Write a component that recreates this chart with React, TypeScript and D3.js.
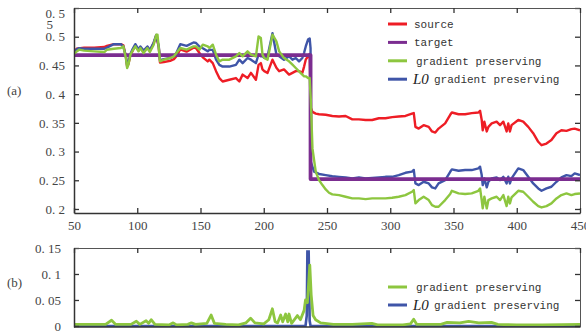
import React, { useEffect, useRef } from 'react';
import * as d3 from 'd3';

// top panel (a): [x, value]
const sourceData: [number, number][] = [
  [50, 0.47], [52, 0.479], [58, 0.481], [66, 0.481], [74, 0.482], [76, 0.484], [81.5, 0.487], [87, 0.487],
  [89, 0.485], [91, 0.466], [92, 0.448], [93, 0.452], [94.6, 0.468], [96, 0.474], [98.5, 0.485], [101, 0.476],
  [102.5, 0.481], [105, 0.474], [108, 0.482], [110, 0.475], [113, 0.489], [115, 0.502], [117, 0.482], [118, 0.455],
  [121, 0.456], [126, 0.458], [129, 0.461], [131, 0.466], [134, 0.478], [139, 0.474], [144.5, 0.481],
  [146.5, 0.48], [149.2, 0.4716], [151.8, 0.464], [155.7, 0.457], [157, 0.46], [159.7, 0.454], [162.3, 0.44],
  [164.9, 0.428], [167.5, 0.422], [172.8, 0.425], [178, 0.428], [180.7, 0.422], [183.3, 0.434], [187.2, 0.428],
  [189.9, 0.437], [193.8, 0.425], [195.9, 0.451], [197.7, 0.454], [199, 0.443], [200.4, 0.44], [203, 0.437],
  [206.9, 0.46], [210, 0.446], [212.2, 0.44], [216, 0.443], [220, 0.434], [222.7, 0.437], [225.3, 0.44],
  [227.9, 0.44], [230.5, 0.437], [231.9, 0.448], [233.2, 0.46], [235, 0.466], [236.3, 0.47],
  [237.2, 0.376], [238.5, 0.369], [241.1, 0.366], [243.7, 0.365], [249, 0.364], [254.2, 0.362], [259.5, 0.361],
  [264.7, 0.362], [270, 0.356], [275.2, 0.356], [280.5, 0.355], [285.7, 0.355], [291, 0.358], [296.2, 0.358],
  [301.5, 0.36], [306.7, 0.361], [312, 0.362], [317.2, 0.366], [318.6, 0.367], [319.9, 0.343], [322.5, 0.34],
  [326.4, 0.346], [330.4, 0.343], [333, 0.335], [335.6, 0.333], [338.2, 0.34], [343.4, 0.349], [347.4, 0.364],
  [348.7, 0.368], [354, 0.365], [359.2, 0.365], [364.4, 0.367], [369.7, 0.368], [371, 0.371], [372.3, 0.355],
  [373.1, 0.337], [374.4, 0.352], [376.3, 0.335], [377.6, 0.343], [380.2, 0.349], [384.1, 0.352], [386.8, 0.346],
  [389.4, 0.352], [392, 0.335], [393.3, 0.349], [394.6, 0.335], [395.9, 0.346], [401.2, 0.355], [405.1, 0.352],
  [409.1, 0.343], [413, 0.332], [417, 0.317], [419.6, 0.311], [423.5, 0.314], [427.4, 0.32], [431.4, 0.332],
  [435.3, 0.337], [439.3, 0.336], [443.2, 0.339], [445.8, 0.34], [450, 0.337],
];

const targetData: [number, number][] = [
  [50, 0.468], [237, 0.468], [237, 0.252], [450, 0.252],
];

const gradData: [number, number][] = [
  [50, 0.47], [52, 0.474], [54, 0.4774], [58, 0.4757], [66, 0.4745], [74, 0.4733], [76, 0.4774], [81.5, 0.4791],
  [87, 0.4803], [89, 0.4832], [91, 0.4629], [92, 0.4455], [93, 0.4513], [94.6, 0.4687], [96, 0.4745], [98.5, 0.4832],
  [101, 0.4745], [102.5, 0.4803], [105, 0.4716], [108, 0.4803], [110, 0.4733], [113, 0.4861], [115, 0.5035],
  [116, 0.5035], [117, 0.4803], [118, 0.4571], [121, 0.46], [126, 0.4629], [129, 0.4658], [131, 0.4716],
  [134, 0.4803], [139, 0.4774], [144.5, 0.4832], [146.5, 0.4832], [149.2, 0.4774], [151.8, 0.4861],
  [155.7, 0.4832], [157, 0.4803], [159.7, 0.4861], [162.3, 0.4687], [164.9, 0.4571], [167.5, 0.46], [172.8, 0.46],
  [178, 0.4658], [180.7, 0.4716], [183.3, 0.4658], [187.2, 0.4745], [189.9, 0.4687], [193.8, 0.4658],
  [195.9, 0.5006], [197.7, 0.4977], [199, 0.4687], [200.4, 0.4629], [203, 0.46], [206.9, 0.5035], [210, 0.492],
  [212.2, 0.4745], [216, 0.4629], [220, 0.4571], [222.7, 0.4513], [225.3, 0.4455], [227.9, 0.4397],
  [230.5, 0.4339], [231.9, 0.431], [233.2, 0.431], [235, 0.4281], [236.3, 0.4281], [237.2, 0.39],
  [238.5, 0.3055], [239.8, 0.285], [241.1, 0.2648], [243.7, 0.2503], [246.4, 0.2416], [249, 0.2341],
  [251.6, 0.2283], [254.2, 0.2254], [259.5, 0.2242], [264.7, 0.2213], [270, 0.2184], [275.2, 0.2184],
  [280.5, 0.2172], [285.7, 0.2184], [291, 0.2184], [296.2, 0.2184], [301.5, 0.2196], [306.7, 0.2213],
  [312, 0.2242], [317.2, 0.23], [318.6, 0.2329], [319.9, 0.2097], [322.5, 0.2155], [326.4, 0.2213],
  [330.4, 0.2155], [333, 0.2068], [335.6, 0.2039], [338.2, 0.2039], [343.4, 0.2155], [347.4, 0.226],
  [348.7, 0.2317], [354, 0.2271], [359.2, 0.226], [364.4, 0.2271], [369.7, 0.2317], [371, 0.2358],
  [372.3, 0.2155], [373.1, 0.201], [374.4, 0.2213], [376.3, 0.201], [377.6, 0.2155], [380.2, 0.2184],
  [384.1, 0.2213], [386.8, 0.2155], [389.4, 0.2242], [392, 0.205], [393.3, 0.2213], [394.6, 0.2097],
  [395.9, 0.2201], [401.2, 0.2317], [405.1, 0.23], [409.1, 0.2213], [413, 0.2126], [417, 0.205],
  [419.6, 0.2027], [423.5, 0.205], [427.4, 0.2097], [431.4, 0.2184], [435.3, 0.2242], [439.3, 0.2271],
  [443.2, 0.2242], [445.8, 0.226], [450, 0.2271],
];

const l0Data: [number, number][] = [
  [50, 0.47], [52, 0.478], [54, 0.48], [58, 0.479], [66, 0.479], [74, 0.479], [76, 0.481], [81.5, 0.487],
  [87, 0.487], [89, 0.483], [91, 0.466], [92, 0.45], [93, 0.455], [94.6, 0.47], [96, 0.477], [98.5, 0.487],
  [101, 0.478], [102.5, 0.483], [105, 0.476], [108, 0.483], [110, 0.477], [113, 0.49], [115, 0.503], [117, 0.483],
  [118, 0.459], [121, 0.461], [126, 0.463], [129, 0.466], [131, 0.472], [134, 0.487], [139, 0.484], [144.5, 0.49],
  [146.5, 0.489], [149.2, 0.483], [151.8, 0.48], [155.7, 0.4745], [157, 0.477], [159.7, 0.477], [162.3, 0.46],
  [164.9, 0.451], [167.5, 0.448], [172.8, 0.448], [178, 0.451], [180.7, 0.46], [183.3, 0.454], [187.2, 0.463],
  [189.9, 0.46], [193.8, 0.454], [195.9, 0.469], [197.7, 0.466], [199, 0.466], [200.4, 0.463], [203, 0.466],
  [206.9, 0.506], [210, 0.469], [212.2, 0.466], [216, 0.46], [220, 0.466], [222.7, 0.46], [225.3, 0.463],
  [227.9, 0.457], [230.5, 0.463], [231.9, 0.472], [233.2, 0.483], [235, 0.495], [236.3, 0.497], [237, 0.48],
  [237.2, 0.282], [239.8, 0.265], [243.7, 0.261], [249, 0.259], [254.2, 0.257], [259.5, 0.256], [264.7, 0.255],
  [270, 0.253], [275.2, 0.255], [280.5, 0.253], [291, 0.255], [296.2, 0.256], [301.5, 0.256], [306.7, 0.259],
  [312, 0.263], [317.2, 0.265], [318.6, 0.268], [319.9, 0.2445], [322.5, 0.2416], [326.4, 0.2474],
  [330.4, 0.2445], [333, 0.2376], [335.6, 0.2358], [338.2, 0.2445], [343.4, 0.2503], [347.4, 0.2648],
  [348.7, 0.2689], [354, 0.2666], [359.2, 0.2678], [364.4, 0.2678], [369.7, 0.2707], [371, 0.2736],
  [372.3, 0.259], [373.1, 0.2416], [374.4, 0.2532], [376.3, 0.2376], [377.6, 0.2474], [380.2, 0.2532],
  [384.1, 0.255], [386.8, 0.2503], [389.4, 0.2561], [392, 0.2445], [393.3, 0.2561], [394.6, 0.2445],
  [395.9, 0.2532], [401.2, 0.2707], [405.1, 0.2678], [409.1, 0.2561], [413, 0.2445], [417, 0.2358],
  [419.6, 0.2317], [423.5, 0.2358], [427.4, 0.2387], [431.4, 0.2474], [435.3, 0.255], [439.3, 0.259],
  [443.2, 0.2573], [445.8, 0.2619], [450, 0.259],
];

// bottom panel (b)
const gradErr: [number, number][] = [
  [50, 0.003], [60, 0.003], [75, 0.003], [79.7, 0.011], [83, 0.003], [95, 0.003], [99.3, 0.009], [102, 0.003],
  [107, 0.01], [109, 0.005], [111, 0.012], [114, 0.003], [125, 0.002], [128.4, 0.006], [131, 0.002], [140, 0.003],
  [142.8, 0.006], [146, 0.003], [155, 0.005], [158.4, 0.021], [161, 0.005], [170, 0.003], [180, 0.002],
  [186, 0.006], [189.6, 0.015], [193, 0.006], [200, 0.004], [204, 0.012], [206.8, 0.033], [209, 0.008],
  [211, 0.006], [213.4, 0.021], [215, 0.008], [217.3, 0.023], [219, 0.008], [220, 0.023], [222, 0.005],
  [226.6, 0.02], [229, 0.012], [231.9, 0.03], [233, 0.05], [234.5, 0.045], [236.4, 0.117], [237.5, 0.06],
  [239, 0.02], [241, 0.012], [245, 0.006], [255, 0.003], [270, 0.003], [285.4, 0.005], [290, 0.002],
  [310, 0.002], [316, 0.004], [318.5, 0.013], [321, 0.003], [340, 0.003], [345, 0.007], [355, 0.006],
  [362, 0.009], [370, 0.006], [380, 0.007], [385, 0.003], [400, 0.002], [420, 0.002], [450, 0.003],
];

const l0Err: [number, number][] = [
  [50, 0], [233, 0], [234, 0.02], [234.5, 0.143], [235.5, 0.143], [236.3, 0.01], [237, 0], [450, 0],
];

const xTicks = [50, 100, 150, 200, 250, 300, 350, 400, 450];
const yTicksA = [0.2, 0.25, 0.3, 0.35, 0.4, 0.45, 0.5, 0.55];
const yLabelsA = ['0. 2', '0. 25', '0. 3', '0. 35', '0. 4', '0. 45', '0. 5', '0. 5'];
const yTicksB = [0, 0.05, 0.1, 0.15];
const yLabelsB = ['0', '0. 05', '0. 1', '0. 15'];

const RED = '#ee1d25';
const PURPLE = '#7b2d90';
const GREEN = '#8dc63f';
const BLUE = '#3f55a8';

const App = () => {
  const ref = useRef<SVGSVGElement>(null);

  useEffect(() => {
    const svg = d3.select(ref.current);
    svg.selectAll('*').remove();

    const left = 74, right = 580;
    const x = d3.scaleLinear().domain([50, 450]).range([left, right]);
    const ya = d3.scaleLinear().domain([0.193, 0.55]).range([213, 8]);
    const yb = d3.scaleLinear().domain([-0.002, 0.15]).range([327, 248]);

    const serif = '"Liberation Serif", "DejaVu Serif", serif';
    const mono = '"Liberation Mono", "DejaVu Sans Mono", monospace';

    const clip = (id: string, y0: number, y1: number) =>
      svg.append('clipPath').attr('id', id)
        .append('rect').attr('x', left).attr('y', y0).attr('width', right - left).attr('height', y1 - y0);
    clip('clipA', 8, 213);
    clip('clipB', 248, 327);

    const styleAxis = (g: any, strong: boolean) => {
      g.select('.domain').attr('stroke', strong ? '#333' : '#555').attr('stroke-width', strong ? 1.5 : 1);
      g.selectAll('.tick line').attr('stroke', '#333').attr('stroke-width', 1.3);
      g.selectAll('text').attr('font-family', serif).attr('font-size', 13).attr('fill', '#444');
    };

    // panel (a)
    const lineA = d3.line<[number, number]>().x(d => x(d[0])).y(d => ya(d[1]));
    const gA = svg.append('g').attr('clip-path', 'url(#clipA)');
    const series: [[number, number][], string, number][] = [
      [sourceData, RED, 2.4],
      [l0Data, BLUE, 2.4],
      [targetData, PURPLE, 3.8],
      [gradData, GREEN, 2.4],
    ];
    series.forEach(([data, color, w]) => {
      gA.append('path').datum(data).attr('fill', 'none').attr('stroke', color)
        .attr('stroke-width', w).attr('stroke-linejoin', 'round').attr('d', lineA);
    });

    const axL = svg.append('g').attr('transform', `translate(${left},0)`)
      .call(d3.axisLeft(ya).tickValues(yTicksA).tickSize(-5).tickSizeOuter(0).tickPadding(9)
        .tickFormat((d, i) => yLabelsA[i]));
    styleAxis(axL, true);
    // the 0.55 label wraps onto two lines
    axL.selectAll('.tick').filter((d: any) => d === 0.55).select('text').attr('y', 5);
    axL.append('text').attr('x', -21).attr('y', 25).attr('dy', '0.32em').attr('text-anchor', 'end')
      .attr('font-family', serif).attr('font-size', 13).attr('fill', '#444').text('5');

    const axR = svg.append('g').attr('transform', `translate(${right},0)`)
      .call(d3.axisRight(ya).tickValues(yTicksA).tickSize(-5).tickSizeOuter(0).tickFormat(() => ''));
    styleAxis(axR, false);
    const axT = svg.append('g').attr('transform', 'translate(0,8)')
      .call(d3.axisTop(x).tickValues(xTicks).tickSize(-5).tickSizeOuter(0).tickFormat(() => ''));
    styleAxis(axT, false);
    const axB = svg.append('g').attr('transform', 'translate(0,213)')
      .call(d3.axisBottom(x).tickValues(xTicks).tickSize(-5).tickSizeOuter(0).tickPadding(8));
    styleAxis(axB, true);

    // panel (b)
    const lineB = d3.line<[number, number]>().x(d => x(d[0])).y(d => yb(d[1]));
    const gB = svg.append('g').attr('clip-path', 'url(#clipB)');
    gB.append('path').datum(l0Err).attr('fill', 'none').attr('stroke', BLUE)
      .attr('stroke-width', 2.6).attr('d', lineB);
    gB.append('path').datum(gradErr).attr('fill', 'none').attr('stroke', GREEN)
      .attr('stroke-width', 2.8).attr('stroke-linejoin', 'round').attr('d', lineB);

    const bL = svg.append('g').attr('transform', `translate(${left},0)`)
      .call(d3.axisLeft(yb).tickValues(yTicksB).tickSize(-5).tickSizeOuter(0).tickPadding(13)
        .tickFormat((d, i) => yLabelsB[i]));
    styleAxis(bL, true);
    const bR = svg.append('g').attr('transform', `translate(${right},0)`)
      .call(d3.axisRight(yb).tickValues(yTicksB).tickSize(-5).tickSizeOuter(0).tickFormat(() => ''));
    styleAxis(bR, false);
    const bT = svg.append('g').attr('transform', 'translate(0,248)')
      .call(d3.axisTop(x).tickValues(xTicks).tickSize(-5).tickSizeOuter(0).tickFormat(() => ''));
    styleAxis(bT, false);
    svg.append('line').attr('x1', left).attr('x2', right).attr('y1', 327).attr('y2', 327)
      .attr('stroke', '#333').attr('stroke-width', 1.5);

    // panel labels
    svg.append('text').attr('x', 7).attr('y', 95).attr('font-family', serif).attr('font-size', 13)
      .attr('fill', '#444').text('(a)');
    svg.append('text').attr('x', 7).attr('y', 287).attr('font-family', serif).attr('font-size', 13)
      .attr('fill', '#444').text('(b)');

    // legends
    const legend = (items: [string, string, boolean][], y0: number, step: number) => {
      items.forEach(([label, color, l0], i) => {
        const y = y0 + i * step;
        svg.append('line').attr('x1', 388).attr('x2', 407).attr('y1', y).attr('y2', y)
          .attr('stroke', color).attr('stroke-width', 3);
        let tx = 414;
        if (l0) {
          svg.append('text').attr('x', 413).attr('y', y + 5).attr('font-family', serif)
            .attr('font-style', 'italic').attr('font-size', 15).attr('fill', '#222').text('L0');
          tx = 434;
        } else if (label !== 'source' && label !== 'target') {
          tx = 416;
        }
        svg.append('text').attr('x', tx).attr('y', y + 4).attr('font-family', mono)
          .attr('font-size', 11).attr('fill', '#333').text(label);
      });
    };
    legend([
      ['source', RED, false],
      ['target', PURPLE, false],
      ['gradient preserving', GREEN, false],
      ['gradient preserving', BLUE, true],
    ], 24, 18.4);
    legend([
      ['gradient preserving', GREEN, false],
      ['gradient preserving', BLUE, true],
    ], 287, 18);
  }, []);

  return (
    <svg ref={ref} width={586} height={333}
      style={{ position: 'absolute', left: 0, top: 0, display: 'block', background: '#fff' }} />
  );
};

export default App;
